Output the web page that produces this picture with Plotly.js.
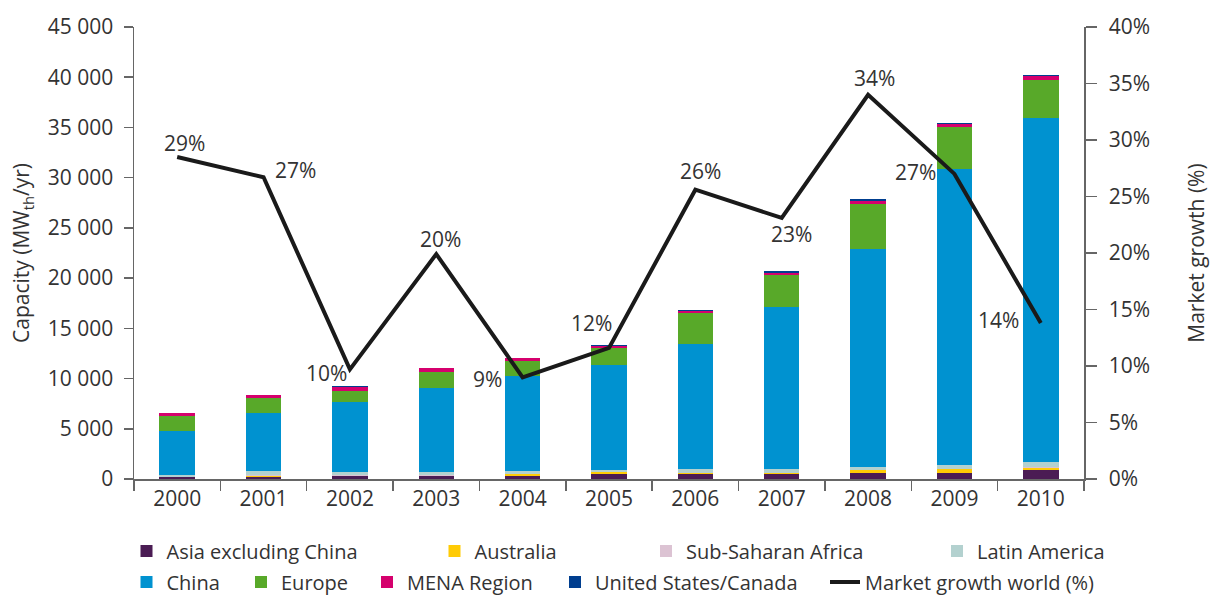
<!DOCTYPE html>
<html>
<head>
<meta charset="utf-8">
<script src="https://cdn.plot.ly/plotly-3.0.1.min.js"></script>
<style>html,body{margin:0;padding:0;background:#fff;}#chart{width:1215px;height:597px;}</style>
</head>
<body>
<div id="chart"></div>
<script>
// ---- data ----
var years = ['2000','2001','2002','2003','2004','2005','2006','2007','2008','2009','2010'];
var asiaExChina = [200, 200, 330, 330, 330, 500, 500, 500, 630, 630, 870];
var australia   = [0, 130, 0, 0, 140, 170, 100, 100, 230, 370, 260];
var subSaharan  = [30, 30, 30, 30, 30, 30, 30, 30, 30, 30, 30];
var latinAmerica= [140, 470, 300, 300, 330, 230, 400, 400, 300, 400, 500];
var china       = [4440, 5700, 7010, 8400, 9390, 10450, 12440, 16130, 21700, 29440, 34250];
var europe      = [1460, 1530, 1130, 1590, 1530, 1700, 3090, 3120, 4510, 4180, 3850];
var mena        = [270, 300, 330, 360, 300, 200, 200, 270, 270, 260, 330];
var usCanada    = [0, 0, 100, 0, 0, 100, 100, 130, 200, 130, 170];
var growth      = [28.5, 26.7, 9.7, 19.9, 9.0, 11.6, 25.6, 23.1, 34.0, 27.0, 13.8];
var growthLabels= ['29%','27%','10%','20%','9%','12%','26%','23%','34%','27%','14%'];

// ---- styling ----
var FONT = 'Open Sans, Noto Sans, sans-serif';
var TXT = '#333333';
var AX = '#666666';
var labelShift = [[7,14],[32,7],[-23,-4],[4,15],[-35,-2],[-18,25],[5,19],[10,-16],[6,17],[-39,2],[-42,3]];

var series = [
  {name:'Asia excluding China', y:asiaExChina, color:'#4b1c54', legend:'legend'},
  {name:'Australia', y:australia, color:'#ffcb05', legend:'legend2'},
  {name:'Sub-Saharan Africa', y:subSaharan, color:'#dcc3d3', legend:'legend3'},
  {name:'Latin America', y:latinAmerica, color:'#b3d1cf', legend:'legend4'},
  {name:'China', y:china, color:'#0092d0', legend:'legend5'},
  {name:'Europe', y:europe, color:'#58a929', legend:'legend6'},
  {name:'MENA Region', y:mena, color:'#d5006d', legend:'legend7'},
  {name:'United States/Canada', y:usCanada, color:'#003e8f', legend:'legend8'}
];

var traces = series.map(function(s){
  return {type:'bar', name:s.name, x:years, y:s.y, legend:s.legend,
          marker:{color:s.color, line:{width:0}}, hoverinfo:'skip'};
});
traces.push({type:'scatter', mode:'lines', name:'Market growth world (%)', x:years, y:growth,
  yaxis:'y2', legend:'legend9', line:{color:'#1a1a1a', width:4}, hoverinfo:'skip'});

// category axis: annotation x uses the category's serial index
var annotations = growthLabels.map(function(t,i){
  return {x:years.indexOf(years[i]), y:growth[i], xref:'x', yref:'y2', text:t, showarrow:false,
          xanchor:'center', yanchor:'middle', xshift:labelShift[i][0], yshift:labelShift[i][1],
          font:{family:FONT, size:21, color:TXT}};
});

function leg(px, row){
  return {x:(px-134)/950, y: row===1 ? (479-551)/452 : (479-582)/452, xref:'paper', yref:'paper',
          xanchor:'left', yanchor:'middle', orientation:'h', bgcolor:'rgba(0,0,0,0)',
          borderwidth:0, font:{family:FONT, size:20, color:TXT}};
}

var layout = {
  width:1215, height:597,
  margin:{l:134, r:131, t:27, b:118, autoexpand:false},
  paper_bgcolor:'#ffffff', plot_bgcolor:'#ffffff',
  barmode:'stack', bargap:0.59,
  separators:'. ',
  font:{family:FONT, size:21, color:TXT},
  showlegend:true,
  xaxis:{type:'category', range:[-0.5,10.5], showline:true, linecolor:AX, linewidth:1.5,
         ticks:'outside', tickson:'boundaries', ticklen:10, tickcolor:AX, tickwidth:1.5,
         showgrid:false, zeroline:false, tickfont:{family:FONT, size:21, color:TXT}},
  yaxis:{range:[0,45000], dtick:5000, tickformat:',', showline:true, linecolor:AX, linewidth:1.5,
         ticks:'outside', ticklen:9, tickcolor:AX, tickwidth:1.5, showgrid:false, zeroline:false,
         tickfont:{family:FONT, size:21, color:TXT}, ticklabelstandoff:6,
         title:{text:'Capacity (MW<sub>th</sub>/yr)', standoff:12, font:{family:FONT, size:21, color:TXT}}},
  yaxis2:{overlaying:'y', side:'right', range:[0,40], dtick:5, ticksuffix:'%', showline:true,
          linecolor:AX, linewidth:1.5, ticks:'outside', ticklen:11, tickcolor:AX, tickwidth:1.5,
          showgrid:false, zeroline:false, ticklabelstandoff:8,
          tickfont:{family:FONT, size:21, color:TXT},
          title:{text:'Market growth (%)', standoff:40, font:{family:FONT, size:21, color:TXT}}},
  legend: leg(126.5,1), legend2: leg(434.5,1), legend3: leg(646,1), legend4: leg(937,1),
  legend5: leg(126.5,2), legend6: leg(241,2), legend7: leg(367,2), legend8: leg(555,2), legend9: leg(825,2),
  annotations: annotations
};

Plotly.newPlot('chart', traces, layout, {displayModeBar:false, staticPlot:true});
</script>
</body>
</html>
